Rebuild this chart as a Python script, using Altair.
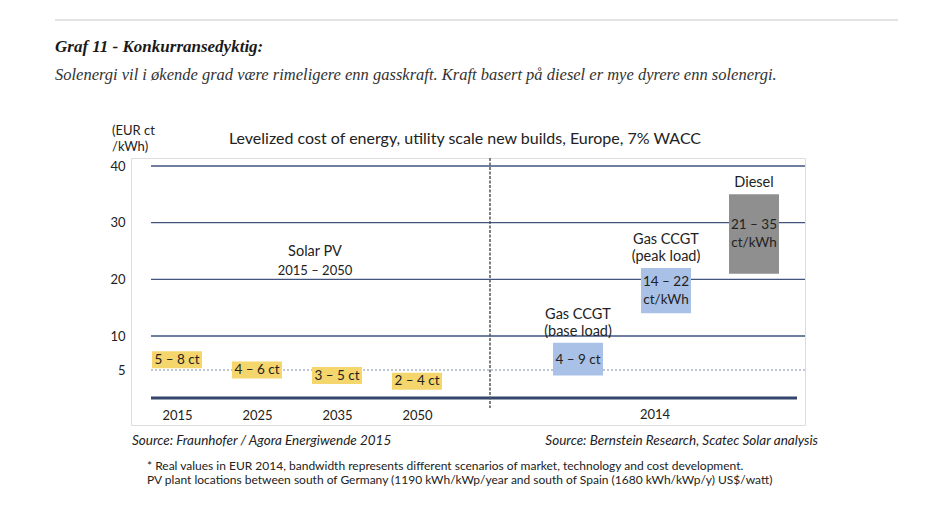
import altair as alt
import pandas as pd

# ---- data ----
solar_years = ["2015", "2025", "2035", "2050"]
solar_low = [5, 4, 3, 2]
solar_high = [8, 6, 5, 4]
solar_labels = ["5 – 8 ct", "4 – 6 ct", "3 – 5 ct", "2 – 4 ct"]

tech_keys = ["base", "peak", "diesel"]
tech_name_top = ["Gas CCGT", "Gas CCGT", ""]
tech_name_bottom = ["(base load)", "(peak load)", "Diesel"]
tech_low = [4, 14, 21]
tech_high = [9, 22, 35]
tech_label_1 = ["4 – 9 ct", "14 – 22", "21 – 35"]
tech_label_2 = ["", "ct/kWh", "ct/kWh"]
tech_colors = ["#a9c1e6", "#a9c1e6", "#8f8f8f"]

y_ticks = [5, 10, 20, 30, 40]
grid_vals = [10, 20, 30, 40]

W, H = 674, 267
SANS = "Lato"
SERIF = "Liberation Serif"

solar_df = pd.DataFrame({"year": solar_years, "lo": solar_low, "hi": solar_high, "label": solar_labels})
tech_df = pd.DataFrame({"tech": tech_keys, "n1": tech_name_top, "n2": tech_name_bottom,
                        "lo": tech_low, "hi": tech_high,
                        "l1": tech_label_1, "l2": tech_label_2, "color": tech_colors})

yscale = alt.Scale(domain=[0, 5, 10, 40], range=[240, 212, 178, 8], nice=False, zero=False)
yaxis = alt.Axis(values=y_ticks, domain=False, ticks=False, grid=False, labelPadding=6,
                 labelFontSize=13, labelColor="#222", labelFont=SANS, title=None)

xs_left = alt.Scale(domain=solar_years, range=[6, 326], paddingInner=0, paddingOuter=0)
xs_right = alt.Scale(domain=tech_keys, range=[403, 667], paddingInner=0, paddingOuter=0)
xaxis_left = alt.Axis(orient="bottom", offset=-16, domain=False, ticks=False, labelPadding=0,
                      labelFontSize=13, labelFont=SANS, labelColor="#222", title=None, labelAngle=0,
                      grid=False)


def note(txt, x, y, size=13, align="center", font=SANS, style="normal", weight="normal",
         color="#222", baseline="middle"):
    return alt.Chart(pd.DataFrame({"t": [txt]})).mark_text(
        fontSize=size, align=align, font=font, fontStyle=style, fontWeight=weight,
        color=color, baseline=baseline
    ).encode(x=alt.value(x), y=alt.value(y), text="t:N")


def Y(f):
    return alt.Y(f, scale=yscale, axis=yaxis)


def XR():
    return alt.X("tech:N", scale=xs_right, axis=None, sort=tech_keys)


grid = alt.Chart(pd.DataFrame({"v": grid_vals})).mark_rule(color="#41557f", strokeWidth=1.3).encode(
    y=Y("v:Q"), x=alt.value(20), x2=alt.value(W))
five = alt.Chart(pd.DataFrame({"v": [5]})).mark_rule(color="#7d8db0", strokeWidth=1, strokeDash=[2, 2]).encode(
    y=Y("v:Q"), x=alt.value(20), x2=alt.value(W))
zero_line = alt.Chart(pd.DataFrame({"v": [0]})).mark_rule(color="#34466c", strokeWidth=3).encode(
    y=Y("v:Q"), x=alt.value(20), x2=alt.value(W - 8))
divider = alt.Chart(pd.DataFrame({"a": [0]})).mark_rule(color="#555", strokeWidth=1.5, strokeDash=[3, 1.5]).encode(
    x=alt.value(359), y=alt.value(0), y2=alt.value(250))
top_line = alt.Chart(pd.DataFrame({"a": [0]})).mark_rule(color="#c8c8c8", strokeWidth=1).encode(
    x=alt.value(-76), x2=alt.value(767), y=alt.value(-138))

solar_box = alt.Chart(solar_df).transform_calculate(mid="(datum.lo + datum.hi) / 2").mark_point(
    filled=True, shape="M-1,-0.34L1,-0.34L1,0.34L-1,0.34Z", size=2500, opacity=1,
    color="#f5d66c", strokeWidth=0
).encode(x=alt.X("year:N", scale=xs_left, axis=xaxis_left, sort=solar_years), y=Y("mid:Q"))
solar_text = alt.Chart(solar_df).transform_calculate(mid="(datum.lo + datum.hi) / 2").mark_text(
    fontSize=13.5, font=SANS, color="#222", baseline="middle"
).encode(x=alt.X("year:N", scale=xs_left, axis=None, sort=solar_years), y=Y("mid:Q"), text="label:N")

bars = alt.Chart(tech_df).mark_bar(size=50).encode(
    x=XR(), y=Y("lo:Q"), y2="hi:Q", color=alt.Color("color:N", scale=None))

tbase = alt.Chart(tech_df).transform_calculate(mid="(datum.lo + datum.hi) / 2")
txt_kw = dict(fontSize=13.5, font=SANS, color="#222", baseline="middle")
bar_text_single = tbase.transform_filter("datum.l2 == ''").mark_text(**txt_kw).encode(
    x=XR(), y=Y("mid:Q"), text="l1:N")
bar_text_1 = tbase.transform_filter("datum.l2 != ''").mark_text(dy=-9, **txt_kw).encode(
    x=XR(), y=Y("mid:Q"), text="l1:N")
bar_text_2 = tbase.transform_filter("datum.l2 != ''").mark_text(dy=9, **txt_kw).encode(
    x=XR(), y=Y("mid:Q"), text="l2:N")

name_kw = dict(fontSize=14.5, font=SANS, color="#222", baseline="middle")
name_bottom = alt.Chart(tech_df).mark_text(dy=-11, **name_kw).encode(x=XR(), y=Y("hi:Q"), text="n2:N")
name_top = alt.Chart(tech_df).mark_text(dy=-28, **name_kw).encode(x=XR(), y=Y("hi:Q"), text="n1:N")

notes = [
    note("Graf 11 - Konkurransedyktig:", -76, -106, size=17, align="left", font=SERIF,
         style="italic", weight="bold", color="#1a1a1a", baseline="alphabetic"),
    note("Solenergi vil i økende grad være rimeligere enn gasskraft. Kraft basert på diesel er mye dyrere enn solenergi.",
         -76, -78, size=16.5, align="left", font=SERIF, style="italic", color="#333", baseline="alphabetic"),
    note("Levelized cost of energy, utility scale new builds, Europe, 7% WACC", 334, -19, size=16),
    note("(EUR ct", -19, -27, size=13, align="left"),
    note("/kWh)", -19, -11, size=13, align="left"),
    note("Solar PV", 184, 94, size=14.5),
    note("2015 – 2050", 184, 113, size=13),
    note("2014", 524, 257, size=13),
    note("Source: Fraunhofer  / Agora Energiwende 2015", 1, 283, size=13.5, align="left", style="italic"),
    note("Source: Bernstein Research, Scatec Solar analysis", 687, 283, size=13.5, align="right", style="italic"),
    note("* Real values in EUR 2014, bandwidth represents different scenarios of market, technology and cost development.",
         16, 308, size=12, align="left"),
    note("PV plant locations between south of Germany (1190 kWh/kWp/year and south of Spain (1680 kWh/kWp/y) US$/watt)",
         16, 322, size=12, align="left"),
]

chart = alt.layer(
    grid, five, zero_line, divider, top_line,
    solar_box, solar_text, bars, bar_text_single, bar_text_1, bar_text_2, name_bottom, name_top, *notes
).resolve_scale(x="independent").properties(
    width=W, height=H,
    autosize=alt.AutoSizeParams(type="none"),
    padding={"left": 123, "top": 150, "right": 134, "bottom": 72},
).configure_view(fill="#efece6", strokeWidth=0).configure(background="white")

chart.save("out.html", embed_options={"renderer": "svg", "actions": False})
